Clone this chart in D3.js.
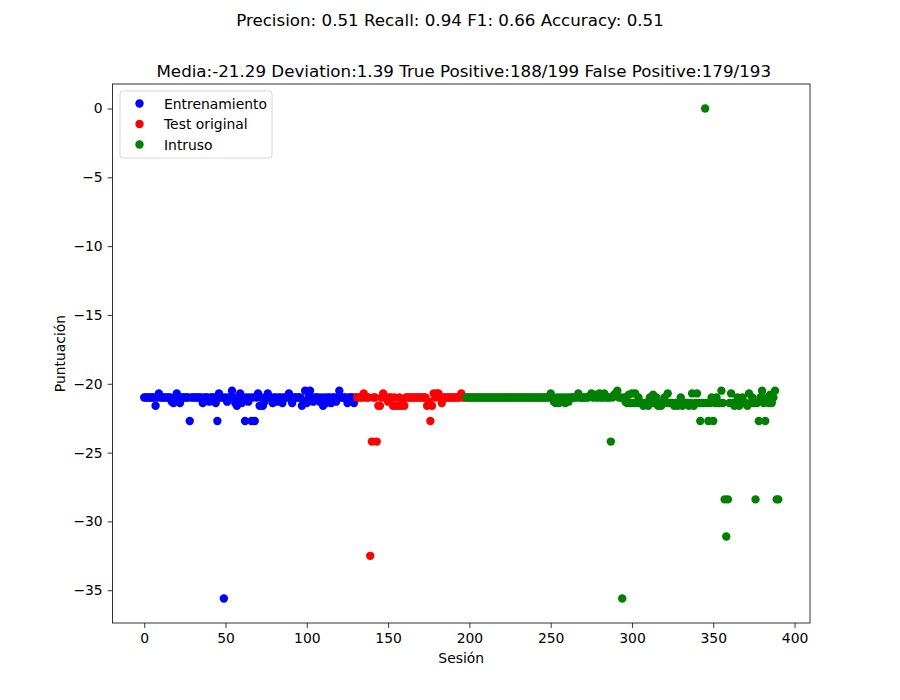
<!DOCTYPE html>
<html>
<head>
<meta charset="utf-8">
<script src="https://cdn.jsdelivr.net/npm/d3@7"></script>
<style>
  body { margin: 0; background: #fff; }
  text { font-family: "DejaVu Sans", sans-serif; }
</style>
</head>
<body>
<svg id="chart" width="900" height="700"></svg>
<script>
// ---- data ----
const suptitle = "Precision: 0.51 Recall: 0.94 F1: 0.66 Accuracy: 0.51";
const title = "Media:-21.29 Deviation:1.39 True Positive:188/199 False Positive:179/193";
const seriesNames = ["Entrenamiento", "Test original", "Intruso"];
const seriesColors = ["#0000ff", "#ff0000", "#008000"];
const xTicks = [0, 50, 100, 150, 200, 250, 300, 350, 400];
const yTicks = [0, -5, -10, -15, -20, -25, -30, -35];

const trainStart = 0;
const trainScores = [
  -21,-21,-21,-21,-21,-21,-21,-21.6,-21,-20.7,
  -21,-21,-21,-21,-21,-21,-21,-21.3,-21.4,-21,
  -20.7,-21,-21.4,-21,-21,-21,-21,-21,-22.7,-21,
  -21,-21,-21,-21,-21,-21,-21.4,-21,-21,-21,
  -21.3,-21,-21,-21,-21.4,-22.7,-20.7,-21,-21,-35.6,
  -21,-21.3,-21,-21,-20.5,-21,-21.4,-21.6,-21,-20.7,
  -21.4,-21,-22.7,-21,-21.3,-21,-22.7,-21,-22.7,-21,
  -20.7,-21.6,-21,-21.6,-21.3,-21,-20.7,-21,-21,-21.4,
  -21,-21,-21.3,-21,-21,-21.4,-21,-21,-21,-20.7,
  -21,-21.4,-21,-21,-21,-21,-21,-21.6,-21.3,-20.5,
  -21.4,-21,-20.5,-21,-21.3,-21,-21,-21,-21.3,-21,
  -21.6,-21,-21.4,-21,-21,-21.4,-21,-21,-21.3,-21,
  -20.5,-21,-21,-21,-21,-21.4,-21,-21,-21,-21.4,
  -21
];

const testStart = 131;
const testScores = [
  -21,-21,-21,-21,-20.7,-21,-21,-21,-32.5,-24.2,
  -21,-21,-24.2,-21.6,-21.6,-21,-20.7,-21,-21,-21.3,
  -21,-21,-21.6,-21,-21.6,-21.6,-21,-21.6,-21.3,-21.6,
  -21,-21,-21,-21,-21,-21,-21,-21,-21,-21,
  -21,-21,-21,-21.6,-21.3,-22.7,-21.6,-20.7,-21,-20.7,
  -20.7,-21,-21.4,-21,-21,-21,-21,-21,-21,-21,
  -21,-21,-21,-21,-20.7,-21,-21
];

const intruderStart = 198;
const intruderScores = [
  -21,-21,-21,-21,-21,-21,-21,-21,-21,-21,
  -21,-21,-21,-21,-21,-21,-21,-21,-21,-21,
  -21,-21,-21,-21,-21,-21,-21,-21,-21,-21,
  -21,-21,-21,-21,-21,-21,-21,-21,-21,-21,
  -21,-21,-21,-21,-21,-21,-21,-21,-21,-21,
  -21,-21,
  -20.7,-21,-21.3,-21.4,-21,-21.4,-21,-21.3,-21,-21.4,
  -21,-21.3,-21,-21,-21,-21,-21,-20.7,-21,-21,
  -21,-21,-21,-21,-20.9,-20.7,-21,-20.8,-21,-21,
  -20.7,-21,-21,-20.7,-21,-21,-21,-24.2,-21,-20.8,
  -20.7,-20.5,-21,-21,-35.6,-21,-21.3,-21.4,-20.8,-21.4,
  -20.7,-21.4,-20.7,-21.4,-21,-21.4,-21.4,-21.6,-21.4,-21.4,
  -21.6,-21,-21.4,-20.8,-21.4,-21,-21.6,-21.4,-21.6,-21.4,
  -21,-21.4,-20.7,-21.4,-21.4,-21.4,-21.6,-21.4,-21.6,-21.4,
  -21,-21.6,-21.4,-21.4,-21.4,-21.6,-21.4,-20.7,-21.6,-21.4,
  -20.7,-21.4,-22.7,-21.4,-21.4,0,-21.4,-22.7,-21.4,-21,
  -22.7,-21.4,-21,-21.4,-21.4,-20.5,-21.4,-28.4,-31.1,-28.4,
  -21.4,-20.7,-21.4,-21.6,-21.4,-21,-21.6,-21.4,-21,-21.4,
  -21.4,-21.6,-20.7,-21.4,-21,-21.4,-28.4,-21.4,-22.7,-21,
  -20.5,-21.4,-22.7,-21,-21.4,-20.8,-21.4,-21,-20.5,-28.4,
  -28.4
];

const series = [
  { name: seriesNames[0], color: seriesColors[0], start: trainStart, values: trainScores },
  { name: seriesNames[1], color: seriesColors[1], start: testStart, values: testScores },
  { name: seriesNames[2], color: seriesColors[2], start: intruderStart, values: intruderScores }
];

// ---- layout ----
const W = 900, H = 700;
const L = 112.5, R = 810, T = 84, B = 623;
const svg = d3.select("#chart");

const allPts = series.flatMap(s => s.values.map((v, i) => ({ x: s.start + i, y: v })));
const xmin = d3.min(allPts, d => d.x), xmax = d3.max(allPts, d => d.x);
const ymin = d3.min(allPts, d => d.y), ymax = d3.max(allPts, d => d.y);
const mx = (xmax - xmin) * 0.05, my = (ymax - ymin) * 0.05;

const x = d3.scaleLinear().domain([xmin - mx, xmax + mx]).range([L, R]);
const y = d3.scaleLinear().domain([ymin - my, ymax + my]).range([B, T]);

// points
series.forEach(s => {
  svg.append("g").selectAll("circle")
    .data(s.values.map((v, i) => ({ x: s.start + i, y: v })))
    .join("circle")
    .attr("cx", d => x(d.x))
    .attr("cy", d => y(d.y))
    .attr("r", 4.2)
    .attr("fill", s.color);
});

// axes
const fmt = d => (d < 0 ? "\u2212" + Math.abs(d) : String(d));
const xAxis = d3.axisBottom(x).tickValues(xTicks).tickFormat(fmt).tickSize(4.9).tickPadding(4.9);
const yAxis = d3.axisLeft(y).tickValues(yTicks).tickFormat(fmt).tickSize(4.9).tickPadding(4.9);

const gx = svg.append("g").attr("transform", `translate(0,${B})`).call(xAxis);
const gy = svg.append("g").attr("transform", `translate(${L},0)`).call(yAxis);
[gx, gy].forEach(g => {
  g.select(".domain").remove();
  g.selectAll(".tick line").attr("stroke", "#000").attr("stroke-width", 0.8);
  g.selectAll(".tick text").attr("font-size", 13.9).attr("fill", "#000")
    .attr("font-family", "DejaVu Sans, sans-serif");
});

// frame
svg.append("rect").attr("x", L).attr("y", T).attr("width", R - L).attr("height", B - T)
  .attr("fill", "none").attr("stroke", "#000").attr("stroke-width", 0.8);

// labels
svg.append("text").attr("x", (L + R) / 2).attr("y", 663).attr("text-anchor", "middle")
  .attr("font-size", 13.9).text("Sesión");
svg.append("text").attr("transform", `translate(65,${(T + B) / 2}) rotate(-90)`)
  .attr("text-anchor", "middle").attr("font-size", 13.9).text("Puntuación");

// titles
svg.append("text").attr("x", (L + R) / 2 + 2.5).attr("y", 76.5).attr("text-anchor", "middle")
  .attr("font-size", 16.7).text(title);
svg.append("text").attr("x", W / 2).attr("y", 26).attr("text-anchor", "middle")
  .attr("font-size", 16.7).text(suptitle);

// legend
const lg = svg.append("g").attr("transform", "translate(120,91)");
lg.append("rect").attr("width", 152).attr("height", 67).attr("rx", 3)
  .attr("fill", "#fff").attr("fill-opacity", 0.8).attr("stroke", "#ccc").attr("stroke-width", 0.8);
series.forEach((s, i) => {
  lg.append("circle").attr("cx", 19.5).attr("cy", 12.5 + i * 20.5).attr("r", 4.2).attr("fill", s.color);
  lg.append("text").attr("x", 44).attr("y", 12.5 + i * 20.5).attr("dy", "0.36em")
    .attr("font-size", 13.9).text(s.name);
});
</script>
</body>
</html>
